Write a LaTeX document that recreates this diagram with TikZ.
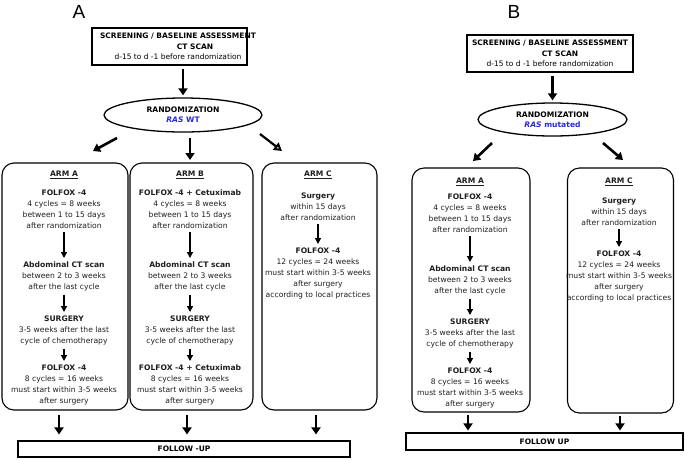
\documentclass[tikz,border=0pt]{standalone}
\usepackage{fontspec}
\setmainfont{DejaVu Sans}
\newfontfamily\panelfont{Liberation Sans}
\usetikzlibrary{arrows.meta,shapes.geometric}
\definecolor{rasblue}{RGB}{40,40,220}
\definecolor{bodytxt}{RGB}{30,30,30}
\begin{document}
\begin{tikzpicture}[x=1pt,y=-1pt,
 txt/.style={align=center,inner sep=0pt,text=bodytxt,font=\fontsize{7.6}{11}\selectfont},
 hdr/.style={align=center,inner sep=0pt,font=\bfseries\fontsize{7.5}{10.5}\selectfont},
 sqbox/.style={draw,line width=1.1pt,inner sep=0pt,font=\bfseries\fontsize{7.5}{9}\selectfont},
 armbox/.style={draw,line width=1.1pt,rounded corners=12pt,inner sep=0pt},
 oval/.style={draw,ellipse,line width=1.3pt,inner sep=0pt,align=center,font=\bfseries\fontsize{7.6}{10}\selectfont},
 big/.style={line width=2.6pt,-{Triangle[width=9pt,length=7pt]}},
 bigopen/.style={line width=2.2pt,-{Triangle[open,width=9pt,length=8pt]}},
 small/.style={line width=1.3pt,-{Triangle[width=6pt,length=6pt]},shorten <=3pt,shorten >=4pt},
 lab/.style={inner sep=0pt,font=\panelfont\fontsize{19}{19}\selectfont}
]
\useasboundingbox (0,0) rectangle (685,459);

%% ---------------- Panel A ----------------
\node[lab] (labA) at (79,12) {A};
\node[sqbox,minimum width=155,minimum height=37] (scrA) at (169.5,46.5) {};
\node[hdr] (scrAt) at (178,46.5) {SCREENING / BASELINE ASSESSMENT\\\hspace*{34pt}CT SCAN\\\mdseries d-15 to d -1 before randomization};
\node[oval,minimum width=158,minimum height=34] (ellA) at (183,115) {RANDOMIZATION\\\textcolor{rasblue}{\textit{RAS} WT}};
\draw[big,shorten <=3pt,shorten >=2pt] (ellA.north |- scrA.south) -- (ellA.north);

\node[armbox,minimum width=126,minimum height=247] (armAA) at (65,286.5) {};
\node[armbox,minimum width=123,minimum height=247] (armAB) at (191.5,286.5) {};
\node[armbox,minimum width=115,minimum height=247] (armAC) at (319.5,286.5) {};

\coordinate (dA1s) at (117,138); \coordinate (dA1e) at (93,151);
\coordinate (dA2s) at (190,138); \coordinate (dA2e) at (190,160);
\coordinate (dA3s) at (260,134); \coordinate (dA3e) at (282,151);
\draw[big] (dA1s) -- (dA1e);
\draw[big] (dA2s) -- (dA2e);
\draw[bigopen] (dA3s) -- (dA3e);

% Arm A
\node[txt] (tAA0) at (64,175) {\textbf{\underline{ARM A}}};
\node[txt,anchor=north] (tAA1) at (64,190) {\textbf{FOLFOX -4}\\4 cycles = 8 weeks\\between 1 to 15 days\\after randomization};
\node[txt,anchor=north] (tAA2) at (64,262) {\textbf{Abdominal CT scan}\\between 2 to 3 weeks\\after the last cycle};
\node[txt,anchor=north] (tAA3) at (64,316) {\textbf{SURGERY}\\3-5 weeks after the last\\cycle of chemotherapy};
\node[txt,anchor=north] (tAA4) at (64,365) {\textbf{FOLFOX -4}\\8 cycles = 16 weeks\\must start within 3-5 weeks\\after surgery};
\draw[small] (tAA1.south) -- (tAA2.north);
\draw[small] (tAA2.south) -- (tAA3.north);
\draw[small] (tAA3.south) -- (tAA4.north);

% Arm B
\node[txt] (tAB0) at (190,175) {\textbf{\underline{ARM B}}};
\node[txt,anchor=north] (tAB1) at (190,190) {\textbf{FOLFOX -4 + Cetuximab}\\4 cycles = 8 weeks\\between 1 to 15 days\\after randomization};
\node[txt,anchor=north] (tAB2) at (190,262) {\textbf{Abdominal CT scan}\\between 2 to 3 weeks\\after the last cycle};
\node[txt,anchor=north] (tAB3) at (190,316) {\textbf{SURGERY}\\3-5 weeks after the last\\cycle of chemotherapy};
\node[txt,anchor=north] (tAB4) at (190,365) {\textbf{FOLFOX -4 + Cetuximab}\\8 cycles = 16 weeks\\must start within 3-5 weeks\\after surgery};
\draw[small] (tAB1.south) -- (tAB2.north);
\draw[small] (tAB2.south) -- (tAB3.north);
\draw[small] (tAB3.south) -- (tAB4.north);

% Arm C
\node[txt] (tAC0) at (318,175) {\textbf{\underline{ARM C}}};
\node[txt,anchor=north] (tAC1) at (318,193) {\textbf{Surgery}\\within 15 days\\after randomization};
\node[txt,anchor=north] (tAC2) at (318,248) {\textbf{FOLFOX -4}\\12 cycles = 24 weeks\\must start within 3-5 weeks\\after surgery\\according to local practices};
\draw[small] (tAC1.south) -- (tAC2.north);

\node[sqbox,minimum width=332,minimum height=16] (fuA) at (184,449) {FOLLOW -UP};
\coordinate (bA1) at ([xshift=-6pt]armAA.south);
\coordinate (bA2) at ([xshift=-4.5pt]armAB.south);
\coordinate (bA3) at ([xshift=-3.5pt]armAC.south);
\draw[big,shorten <=4pt,shorten >=6pt] (bA1) -- (bA1 |- fuA.north);
\draw[big,shorten <=4pt,shorten >=6pt] (bA2) -- (bA2 |- fuA.north);
\draw[big,shorten <=4pt,shorten >=6pt] (bA3) -- (bA3 |- fuA.north);

%% ---------------- Panel B ----------------
\node[lab] (labB) at (514,12) {B};
\node[sqbox,minimum width=166,minimum height=37] (scrB) at (550,53.5) {};
\node[hdr] (scrBt) at (550,53.5) {SCREENING / BASELINE ASSESSMENT\\\hspace*{20pt}CT SCAN\\\mdseries d-15 to d -1 before randomization};
\node[oval,minimum width=149,minimum height=33] (ellB) at (552.5,119.5) {RANDOMIZATION\\\textcolor{rasblue}{\textit{RAS} mutated}};
\draw[big,shorten <=3pt,shorten >=2pt] (ellB.north |- scrB.south) -- (ellB.north);

\node[armbox,minimum width=118,minimum height=244] (armBA) at (471,290) {};
\node[armbox,minimum width=106,minimum height=245] (armBC) at (620.5,290.5) {};

\coordinate (dB1s) at (492,143); \coordinate (dB1e) at (473,161);
\coordinate (dB3s) at (603,143); \coordinate (dB3e) at (623,160);
\draw[big] (dB1s) -- (dB1e);
\draw[big] (dB3s) -- (dB3e);

% Arm A (B)
\node[txt] (tBA0) at (470,182) {\textbf{\underline{ARM A}}};
\node[txt,anchor=north] (tBA1) at (470,194) {\textbf{FOLFOX -4}\\4 cycles = 8 weeks\\between 1 to 15 days\\after randomization};
\node[txt,anchor=north] (tBA2) at (470,266) {\textbf{Abdominal CT scan}\\between 2 to 3 weeks\\after the last cycle};
\node[txt,anchor=north] (tBA3) at (470,319) {\textbf{SURGERY}\\3-5 weeks after the last\\cycle of chemotherapy};
\node[txt,anchor=north] (tBA4) at (470,368) {\textbf{FOLFOX -4}\\8 cycles = 16 weeks\\must start within 3-5 weeks\\after surgery};
\draw[small] (tBA1.south) -- (tBA2.north);
\draw[small] (tBA2.south) -- (tBA3.north);
\draw[small] (tBA3.south) -- (tBA4.north);

% Arm C (B)
\node[txt] (tBC0) at (619,182) {\textbf{\underline{ARM C}}};
\node[txt,anchor=north] (tBC1) at (619,198) {\textbf{Surgery}\\within 15 days\\after randomization};
\node[txt,anchor=north] (tBC2) at (619,251) {\textbf{FOLFOX -4}\\12 cycles = 24 weeks\\must start within 3-5 weeks\\after surgery\\according to local practices};
\draw[small] (tBC1.south) -- (tBC2.north);

\node[sqbox,minimum width=277,minimum height=17] (fuB) at (544.5,441.5) {FOLLOW UP};
\coordinate (bB1) at ([xshift=-3pt]armBA.south);
\coordinate (bB2) at ([xshift=-0.5pt]armBC.south);
\draw[big,shorten <=2pt,shorten >=2pt] (bB1) -- (bB1 |- fuB.north);
\draw[big,shorten <=2pt,shorten >=2pt] (bB2) -- (bB2 |- fuB.north);
\end{tikzpicture}
\end{document}
